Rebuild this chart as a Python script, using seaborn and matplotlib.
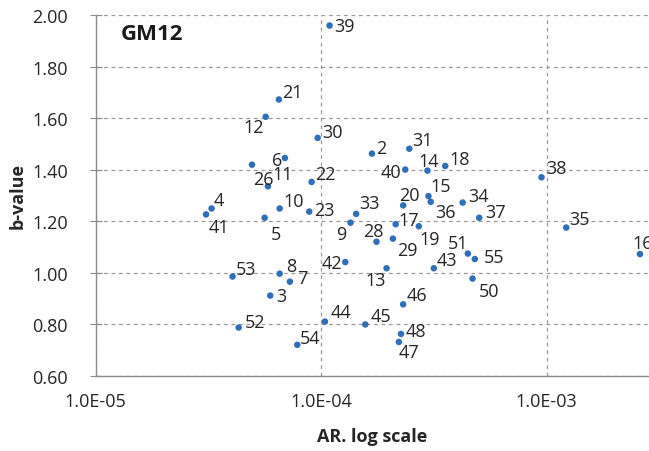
import matplotlib
matplotlib.use("Agg")
import matplotlib.pyplot as plt
import matplotlib.ticker as mticker
import numpy as np
import pandas as pd
import seaborn as sns

# sample id, AR (log scale) and b-value
ids = [39, 21, 12, 30, 6, 26, 11, 22, 4, 41, 10, 23, 5, 9, 33, 42, 53, 8, 7, 3,
       52, 54, 44, 2, 31, 40, 14, 18, 38, 15, 36, 20, 34, 37, 35, 16, 17, 19, 28, 29,
       51, 55, 13, 43, 50, 46, 45, 48, 47]
ar = [1.09e-4, 6.50e-5, 5.68e-5, 9.65e-5, 6.91e-5, 4.94e-5, 5.81e-5, 9.08e-5, 3.27e-5, 3.09e-5,
      6.55e-5, 8.86e-5, 5.62e-5, 1.35e-4, 1.43e-4, 1.28e-4, 4.05e-5, 6.55e-5, 7.27e-5, 5.95e-5,
      4.31e-5, 7.84e-5, 1.04e-4, 1.68e-4, 2.46e-4, 2.36e-4, 2.96e-4, 3.55e-4, 9.48e-4, 2.99e-4,
      3.06e-4, 2.31e-4, 4.24e-4, 5.02e-4, 1.22e-3, 2.59e-3, 2.14e-4, 2.71e-4, 1.76e-4, 2.08e-4,
      4.47e-4, 4.80e-4, 1.95e-4, 3.16e-4, 4.69e-4, 2.31e-4, 1.57e-4, 2.26e-4, 2.21e-4]
bval = [1.959, 1.672, 1.605, 1.523, 1.445, 1.419, 1.335, 1.352, 1.249, 1.226,
        1.249, 1.237, 1.213, 1.194, 1.228, 1.041, 0.985, 0.996, 0.965, 0.911,
        0.787, 0.720, 0.810, 1.462, 1.481, 1.400, 1.396, 1.414, 1.370, 1.297,
        1.275, 1.261, 1.272, 1.213, 1.175, 1.072, 1.188, 1.180, 1.120, 1.132,
        1.074, 1.053, 1.017, 1.017, 0.977, 0.877, 0.799, 0.762, 0.731]

y_ticks = [0.6, 0.8, 1.0, 1.2, 1.4, 1.6, 1.8, 2.0]
x_ticks = [1e-5, 1e-4, 1e-3]
x_tick_labels = ["1.0E-05", "1.0E-04", "1.0E-03"]

df = pd.DataFrame({"id": ids, "AR": ar, "b": bval})

# label placement (pixels: dx, dy downwards, horizontal alignment)
label_pos = {
    39: (5, 0, "left"), 21: (3, -8, "left"), 12: (-2, 10, "right"), 30: (5, -6, "left"),
    6: (-3, 2, "right"), 26: (1, 14, "left"), 11: (4, -12, "left"), 22: (3, -8, "left"),
    4: (2, -8, "left"), 41: (3, 13, "left"), 10: (4, -7, "left"), 23: (5, -2, "left"),
    5: (6, 16, "left"), 9: (-4, 11, "right"), 33: (3, -11, "left"), 42: (-3, 1, "right"),
    53: (3, -8, "left"), 8: (6, -8, "left"), 7: (7, -4, "left"), 3: (6, 0, "left"),
    52: (6, -6, "left"), 54: (3, -7, "left"), 44: (6, -10, "left"), 2: (4, -6, "left"),
    31: (3, -9, "left"), 40: (-4, 2, "right"), 14: (1, -10, "center"), 18: (4, -7, "left"),
    38: (5, -9, "left"), 15: (2, -10, "left"), 36: (5, 10, "left"), 20: (6, -10, "center"),
    34: (6, -7, "left"), 37: (6, -6, "left"), 35: (3, -9, "left"), 16: (-8, -11, "left"),
    17: (3, -4, "left"), 19: (1, 13, "left"), 28: (-3, -11, "center"), 29: (4, 11, "left"),
    51: (0, -11, "right"), 55: (9, -2, "left"), 13: (-1, 12, "right"), 43: (3, -8, "left"),
    50: (6, 12, "left"), 46: (3, -9, "left"), 45: (5, -8, "left"), 48: (5, -3, "left"),
    47: (0, 10, "left"),
}

sns.set_style("white")
plt.rcParams["font.family"] = ["Open Sans", "DejaVu Sans"]

fig = plt.figure(figsize=(6.49, 4.52), dpi=100)
ax = fig.add_axes([95.5 / 649, 1 - 376.7 / 452, 1 - 95.5 / 649, (376.7 - 16) / 452])

sns.scatterplot(data=df, x="AR", y="b", ax=ax, color="#2E6FB7", s=22,
                edgecolor="none", legend=False, zorder=3)

for i, x, y in zip(df["id"], df["AR"], df["b"]):
    dx, dy, ha = label_pos[i]
    ax.annotate(str(i), (x, y), xytext=(dx, -dy), textcoords="offset pixels",
                ha=ha, va="center", fontsize=13, color="#262626", annotation_clip=False)

ax.set_xscale("log")
ax.set_xlim(1e-5, 10 ** (-3 + (649 - 546.7) / 225.7))
ax.set_ylim(0.6, 2.0)
ax.set_xticks(x_ticks)
ax.set_xticklabels(x_tick_labels)
ax.xaxis.set_minor_locator(mticker.LogLocator(base=10, subs=np.arange(2, 10)))
ax.xaxis.set_minor_formatter(mticker.NullFormatter())
ax.set_yticks(y_ticks)
ax.yaxis.set_major_formatter(mticker.FormatStrFormatter("%.2f"))

ax.grid(True, which="major", linestyle=(0, (3, 3)), color="#9a9a9a", linewidth=0.9)
ax.set_axisbelow(True)
for side in ["top", "right"]:
    ax.spines[side].set_visible(False)
for side in ["left", "bottom"]:
    ax.spines[side].set_color("#8c8c8c")
    ax.spines[side].set_linewidth(1.0)

ax.tick_params(axis="x", which="major", direction="in", length=0, pad=12,
               labelsize=13, labelcolor="#262626")
ax.tick_params(axis="x", which="minor", direction="in", length=5, color="#8c8c8c", width=1)
ax.tick_params(axis="y", which="major", direction="inout", length=8, color="#8c8c8c",
               pad=16, labelsize=13, labelcolor="#262626", left=True)

ax.set_xlabel("AR. log scale", fontsize=13, fontweight="bold", color="#262626", labelpad=12)
ax.set_ylabel("b-value", fontsize=13, fontweight="bold", color="#262626", labelpad=4)

fig.text(121 / 649, 1 - 34 / 452, "GM12", fontsize=16, fontweight="bold",
         color="#1a1a1a", ha="left", va="center")

fig.savefig("out.png", dpi=100)
